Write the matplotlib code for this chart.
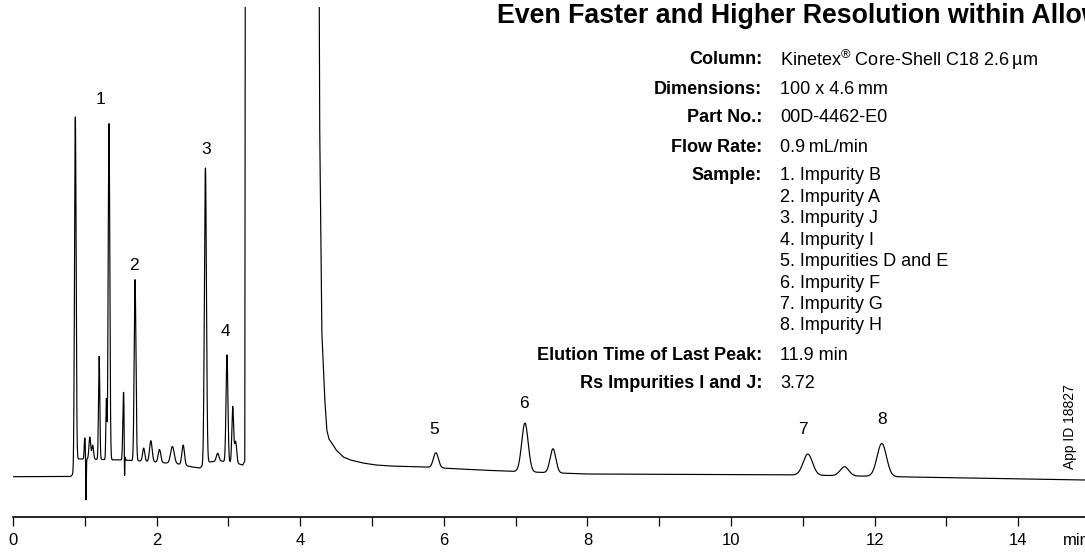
import numpy as np
import matplotlib
matplotlib.use("Agg")
import matplotlib.pyplot as plt
from matplotlib.ticker import MultipleLocator

plt.rcParams['font.family'] = ['Liberation Sans', 'DejaVu Sans']
plt.rcParams['mathtext.fontset'] = 'custom'
plt.rcParams['mathtext.rm'] = 'Liberation Sans'

# ---------------- data ----------------
# baseline / solvent-front anchor points: time (min), detector response (a.u.)
base_t = [0.00, 0.80, 0.84, 0.90, 1.00, 1.50, 1.80, 2.30, 2.50, 2.60, 2.72, 2.90,
          3.15, 3.20, 3.228, 3.24, 4.25, 4.27, 4.30, 4.34, 4.37, 4.40, 4.44, 4.50,
          4.60, 4.70, 4.87, 5.05, 5.25, 5.70, 6.50, 7.00, 8.00, 11.00, 12.50, 14.93]
base_v = [40.3, 40.5, 43.0, 58.0, 58.0, 57.0, 56.0, 53.0, 50.0, 49.0, 55.0, 56.0,
          53.0, 52.0, 56.0, 900.0, 900.0, 400.0, 187.0, 120.0, 87.0, 78.0, 74.0, 67.0,
          60.0, 57.0, 54.0, 52.0, 51.0, 50.0, 47.0, 45.5, 43.0, 42.0, 40.0, 37.0]

# peak table: retention time (min), height above baseline (a.u.), width (sigma, min)
peak_t = [0.868, 1.000, 1.017, 1.070, 1.110, 1.200, 1.300, 1.337, 1.540, 1.553,
          1.700, 1.820, 1.920, 2.040, 2.220, 2.370, 2.680, 2.850, 2.980, 3.060,
          3.100, 5.890, 7.130, 7.520, 11.070, 11.580, 12.100]
peak_h = [350, 21, -43, 22, 14, 103, 60, 336, 68, -42,
          181, 13, 21, 13, 17, 20, 296, 8, 107, 56,
          22, 15, 48.7, 24, 21, 9, 33]
peak_w = [0.011, 0.008, 0.004, 0.012, 0.012, 0.009, 0.007, 0.011, 0.010, 0.004,
          0.012, 0.015, 0.018, 0.018, 0.025, 0.018, 0.014, 0.018, 0.013, 0.012,
          0.015, 0.035, 0.045, 0.040, 0.065, 0.060, 0.065]

# peak number labels: label, time position, response position
lab_txt = ['1', '2', '3', '4', '5', '6', '7', '8']
lab_t = [1.212, 1.685, 2.684, 2.963, 5.864, 7.117, 11.00, 12.10]
lab_v = [417, 252, 367, 186, 87, 114, 87, 97]

x_ticks = [0, 2, 4, 6, 8, 10, 12, 14]

info_labels = ['Column:', 'Dimensions:', 'Part No.:', 'Flow Rate:', 'Sample:']
info_values = ['Kinetex$^{\\mathrm{®}}$ Core-Shell C18 2.6\u2009µm', '100 x 4.6\u2009mm',
               '00D-4462-E0', '0.9\u2009mL/min']
sample_list = ['1. Impurity B', '2. Impurity A', '3. Impurity J', '4. Impurity I',
               '5. Impurities D and E', '6. Impurity F', '7. Impurity G', '8. Impurity H']
extra_labels = ['Elution Time of Last Peak:', 'Rs Impurities I and J:']
extra_values = ['11.9 min', '3.72']

title = 'Even Faster and Higher Resolution within Allowable Limits'
app_id = 'App ID 18827'

# ---------------- build trace ----------------
t = np.arange(0.0, 14.93, 0.001)
y = np.interp(t, base_t, base_v)
for pt, ph, pw in zip(peak_t, peak_h, peak_w):
    y = y + ph * np.exp(-0.5 * ((t - pt) / pw) ** 2)

# ---------------- figure ----------------
W, H = 1085, 552
fig = plt.figure(figsize=(W / 100, H / 100), dpi=100)
ax_left, ax_right, ax_bottom, ax_top = 13, 1085, 517, 7
ax = fig.add_axes([ax_left / W, (H - ax_bottom) / H, (ax_right - ax_left) / W,
                   (ax_bottom - ax_top) / H])
ax.plot(t, y, color='black', lw=0.85)
ax.set_xlim(0, 14.93)
ax.set_ylim(0, 510)
for s in ['left', 'right', 'top']:
    ax.spines[s].set_visible(False)
ax.spines['bottom'].set_linewidth(1.2)
ax.set_yticks([])
ax.set_xticks(x_ticks)
ax.set_xticklabels([str(v) for v in x_ticks])
ax.xaxis.set_minor_locator(MultipleLocator(1))
ax.tick_params(axis='x', which='both', direction='out', length=6.5, width=0.9,
               labelsize=12, pad=5)
ax.annotate('min', xy=(14.62, 0), xycoords=('data', 'axes fraction'),
            xytext=(0, -11.5), textcoords='offset points', fontsize=12,
            ha='left', va='top', annotation_clip=False)

for lt, lx, lv in zip(lab_txt, lab_t, lab_v):
    ax.text(lx, lv, lt, fontsize=12.5, ha='center', va='center')

# text block
def fy(ypx):
    return (H - ypx) / H

fig.text(497 / W, fy(16), title, fontsize=19.3, fontweight='bold', ha='left', va='center')

row_y = [60, 89, 118, 147.5, 176]
for lbl, yy in zip(info_labels, row_y):
    fig.text(762 / W, fy(yy), lbl, fontsize=13, fontweight='bold', ha='right', va='center')
for val, yy in zip(info_values, row_y[:4]):
    fig.text(780 / W, fy(yy), val, fontsize=13, ha='left', va='center')
for i, s in enumerate(sample_list):
    fig.text(780 / W, fy(176 + 21.4 * i), s, fontsize=13, ha='left', va='center')
for lbl, val, yy in zip(extra_labels, extra_values, [355, 383]):
    fig.text(762 / W, fy(yy), lbl, fontsize=13, fontweight='bold', ha='right', va='center')
    fig.text(780 / W, fy(yy), val, fontsize=13, ha='left', va='center')

fig.text(1070 / W, fy(427), app_id, fontsize=10, rotation=90, ha='center', va='center')

fig.savefig('out.png', dpi=100)
